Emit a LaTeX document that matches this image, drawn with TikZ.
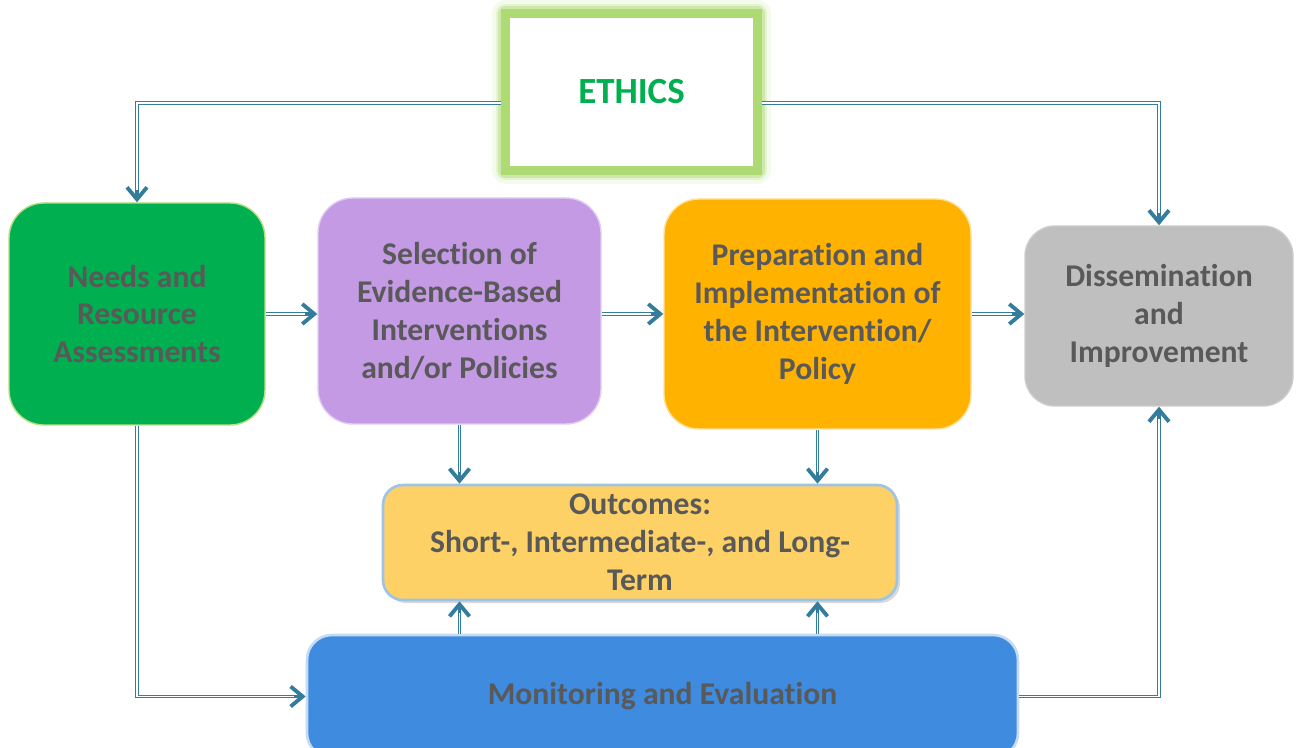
\documentclass[tikz,border=0pt]{standalone}
\usepackage{fontspec}
\setmainfont{Carlito}[Ligatures={NoCommon,NoContextual}]
\usepackage{tikz}
\usetikzlibrary{arrows.meta, shadows}

\definecolor{stagegreen}{RGB}{0,176,80}
\definecolor{stagepurple}{RGB}{196,154,229}
\definecolor{stageorange}{RGB}{255,178,0}
\definecolor{stagegray}{RGB}{191,191,191}
\definecolor{outcomeyellow}{RGB}{254,209,102}
\definecolor{monitorblue}{RGB}{62,139,224}
\definecolor{linkblue}{RGB}{52,124,156}
\definecolor{textgray}{RGB}{89,89,89}
\definecolor{glowgreen}{RGB}{165,214,100}
\definecolor{edgeblue}{RGB}{157,195,230}

\begin{document}
\begin{tikzpicture}[
  stage/.style={draw, rectangle, rounded corners=0.7cm, align=center, text=textgray, font=\bfseries\fontsize{18}{21.5}\selectfont, line width=0.8pt},
  link/.style={draw=linkblue, line width=2.2pt, -{Straight Barb[length=0.24cm, width=0.4cm, line width=2.2pt]}, postaction={draw=white, line width=0.8pt, -, shorten >=0.24cm}}
]
\useasboundingbox (0,0) rectangle (25.94,-14.96);

\node[stage, rounded corners=0, fill=white, draw=glowgreen!90, line width=5pt, preaction={draw=glowgreen!12, line width=15pt, line join=round}, preaction={draw=glowgreen!30, line width=11pt, line join=round}, preaction={draw=glowgreen!55, line width=8pt, line join=round}, minimum width=5.04cm, minimum height=3.14cm, text=stagegreen, font=\bfseries\fontsize{21}{25}\selectfont] (ethics) at (12.63,-1.84) {ETHICS};

\node[stage, fill=stagegreen, draw=glowgreen!80, minimum width=5.12cm, minimum height=4.44cm] (needs) at (2.74,-6.28) {Needs and\\Resource\\Assessments};
\node[stage, fill=stagepurple, draw=stagepurple!50, minimum width=5.66cm, minimum height=4.52cm] (select) at (9.19,-6.22) {Selection of\\Evidence-Based\\Interventions\\and/or Policies};
\node[stage, fill=stageorange, draw=stageorange!40, minimum width=6.14cm, minimum height=4.6cm] (prep) at (16.35,-6.28) {Preparation and\\Implementation of\\the Intervention/\\Policy};
\node[stage, fill=stagegray, draw=black!20, rounded corners=0.6cm, minimum width=5.36cm, minimum height=3.6cm] (dissem) at (23.18,-6.32) {Dissemination\\and\\Improvement};
\node[stage, fill=outcomeyellow, draw=edgeblue, line width=1.5pt, rounded corners=0.4cm, drop shadow={opacity=0.3, shadow xshift=0.06cm, shadow yshift=-0.06cm}, minimum width=10.28cm, minimum height=2.3cm] (outcomes) at (12.8,-10.85) {Outcomes:\\Short-, Intermediate-, and Long-\\Term};
\node[stage, fill=monitorblue, draw=edgeblue!60, line width=1.5pt, rounded corners=0.5cm, minimum width=14.22cm, minimum height=2.46cm] (monitor) at (13.25,-13.93) {Monitoring and Evaluation};

% ethics feeds both ends
\draw[link] ([yshift=-0.22cm]ethics.west) -| (needs.north);
\draw[link] ([yshift=-0.22cm]ethics.east) -| (dissem.north);

% main row
\draw[link] (needs.east) -- (needs.east -| select.west);
\draw[link] (needs.east -| select.east) -- (needs.east -| prep.west);
\draw[link] (needs.east -| prep.east) -- (needs.east -| dissem.west);

% outcomes
\draw[link] (select.south) -- (select.south |- outcomes.north);
\draw[link] (prep.south) -- (prep.south |- outcomes.north);
\draw[link] (select.south |- monitor.north) -- (select.south |- outcomes.south);
\draw[link] (prep.south |- monitor.north) -- (prep.south |- outcomes.south);

% monitoring loop
\draw[link] (needs.south) |- (monitor.west);
\draw[link] (monitor.east) -| (dissem.south);
\end{tikzpicture}
\end{document}
